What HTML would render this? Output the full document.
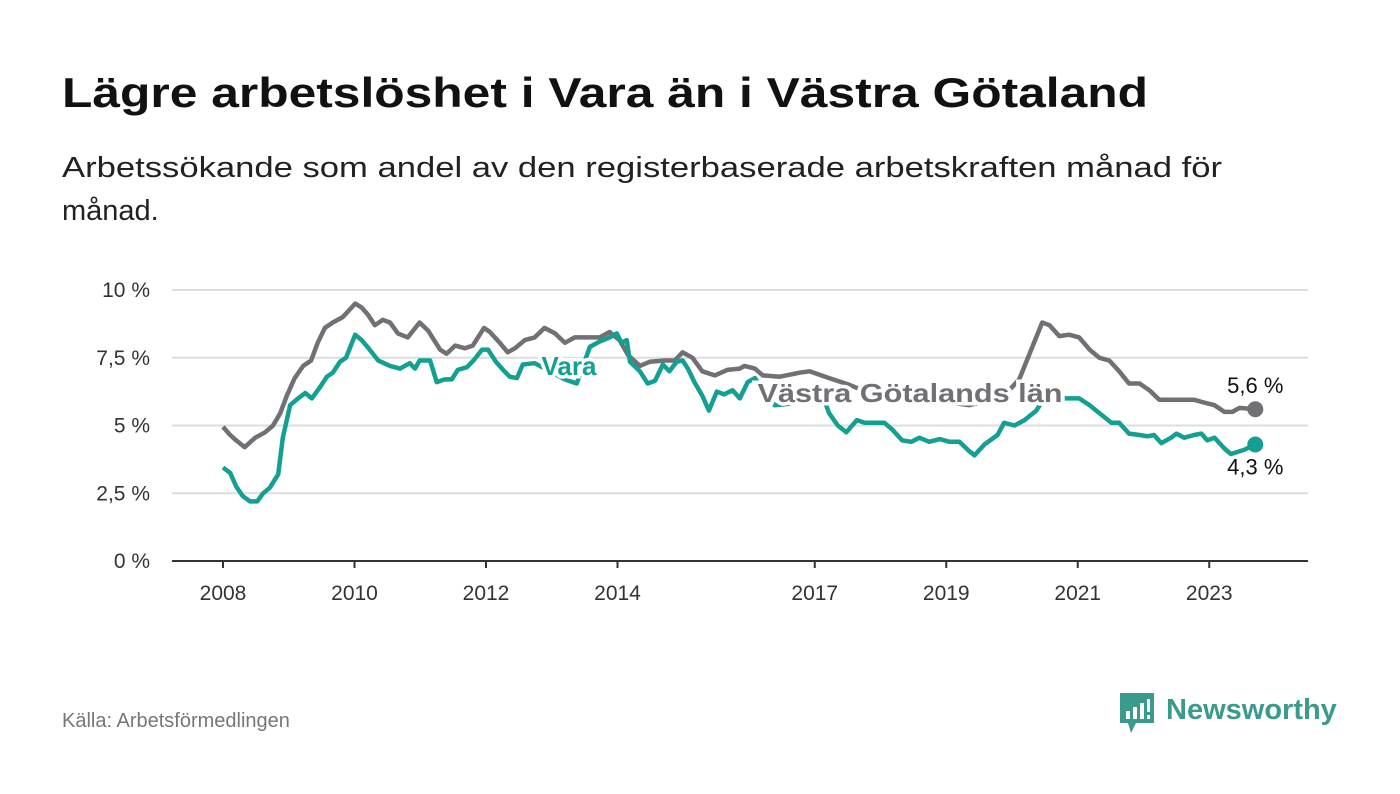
<!DOCTYPE html>
<html><head><meta charset="utf-8">
<style>
html,body{margin:0;padding:0;background:#fff;width:1400px;height:794px;overflow:hidden}
svg{display:block;font-family:"Liberation Sans",sans-serif}
</style></head><body>
<svg id="chart" width="1400" height="794" viewBox="0 0 1400 794">
<text x="62" y="107" font-size="42" font-weight="bold" fill="#111" textLength="1086" lengthAdjust="spacingAndGlyphs">Lägre arbetslöshet i Vara än i Västra Götaland</text>
<text x="62" y="177" font-size="29" fill="#222" textLength="1160" lengthAdjust="spacingAndGlyphs">Arbetssökande som andel av den registerbaserade arbetskraften månad för</text>
<text x="62" y="220" font-size="29" fill="#222">månad.</text>
<g id="grid"></g><g id="series"></g><g id="labels"></g>
<text x="62" y="727" font-size="20" fill="#777">Källa: Arbetsförmedlingen</text>
<g>
<path d="M1120 693 h34 v30 h-18 l-5 10 l-3 -10 h-8 z" fill="#3a9a8c"/>
<rect x="1126" y="711" width="4" height="8" fill="#fff"/><rect x="1133" y="707" width="4" height="12" fill="#fff"/><rect x="1140" y="703" width="4" height="16" fill="#fff"/><rect x="1147" y="699" width="3" height="13" fill="#fff"/><rect x="1147" y="715" width="3" height="4" fill="#fff"/>
<text x="1166" y="719" font-size="29" font-weight="bold" fill="#3a9a8c">Newsworthy</text>
</g>
</svg>
<script>
const yTicks=[0,2.5,5,7.5,10];
const yTickLabels=["0 %","2,5 %","5 %","7,5 %","10 %"];
const xTicks=[2008,2010,2012,2014,2017,2019,2021,2023];
const grayT=[0,.11,.2,.33,.49,.64,.76,.87,.97,1.09,1.22,1.34,1.44,1.55,1.67,1.82,2.01,2.11,2.2,2.31,2.43,2.54,2.66,2.81,2.99,3.12,3.3,3.4,3.53,3.68,3.8,3.97,4.06,4.21,4.33,4.44,4.59,4.74,4.89,5.05,5.2,5.35,5.5,5.73,5.88,6.03,6.16,6.34,6.49,6.72,6.87,6.99,7.14,7.29,7.48,7.67,7.86,7.93,8.09,8.21,8.47,8.77,8.92,9.22,9.53,9.83,10.29,10.9,11.35,11.66,11.88,12.11,12.46,12.57,12.72,12.87,13.02,13.18,13.33,13.48,13.63,13.78,13.94,14.09,14.24,14.47,14.77,14.92,15.08,15.23,15.35,15.46,15.7];
const grayV=[4.95,4.65,4.45,4.2,4.55,4.75,5.0,5.45,6.1,6.75,7.2,7.4,8.05,8.6,8.8,9.0,9.5,9.35,9.1,8.7,8.9,8.8,8.4,8.25,8.8,8.5,7.8,7.65,7.95,7.85,7.95,8.6,8.45,8.05,7.7,7.85,8.15,8.25,8.6,8.4,8.05,8.25,8.25,8.25,8.45,8.15,7.6,7.2,7.35,7.4,7.4,7.7,7.5,7.0,6.85,7.05,7.1,7.2,7.1,6.85,6.8,6.95,7.0,6.75,6.5,6.2,6.1,5.9,5.75,5.95,6.1,6.7,8.8,8.7,8.3,8.35,8.25,7.8,7.5,7.4,7.0,6.55,6.55,6.3,5.95,5.95,5.95,5.85,5.75,5.5,5.5,5.65,5.6];
const varaT=[0,.11,.2,.3,.41,.52,.61,.71,.84,.91,1.02,1.14,1.25,1.35,1.47,1.58,1.67,1.78,1.87,2.01,2.11,2.23,2.36,2.54,2.69,2.84,2.92,2.99,3.15,3.25,3.37,3.48,3.57,3.71,3.81,3.94,4.03,4.15,4.26,4.36,4.47,4.56,4.74,4.97,5.2,5.38,5.58,5.73,5.88,5.99,6.06,6.14,6.19,6.34,6.46,6.57,6.69,6.79,6.9,6.99,7.07,7.17,7.29,7.39,7.51,7.62,7.75,7.86,7.98,8.09,8.24,8.39,8.62,8.92,9.15,9.22,9.35,9.48,9.64,9.76,10.06,10.18,10.33,10.47,10.59,10.74,10.9,11.05,11.2,11.35,11.43,11.58,11.78,11.88,12.04,12.19,12.37,12.49,12.72,13.02,13.18,13.36,13.51,13.63,13.78,13.94,14.06,14.16,14.27,14.42,14.5,14.62,14.77,14.88,14.97,15.08,15.23,15.33,15.53,15.7];
const varaV=[3.45,3.25,2.75,2.4,2.2,2.2,2.5,2.7,3.2,4.55,5.75,6.0,6.2,6.0,6.4,6.8,6.95,7.35,7.5,8.35,8.15,7.8,7.4,7.2,7.1,7.3,7.1,7.4,7.4,6.6,6.7,6.7,7.05,7.15,7.4,7.8,7.8,7.35,7.05,6.8,6.75,7.25,7.3,7.0,6.7,6.55,7.9,8.1,8.25,8.4,8.05,8.15,7.35,7.0,6.55,6.65,7.25,7.0,7.35,7.4,7.1,6.6,6.1,5.55,6.25,6.15,6.3,6.0,6.6,6.75,6.2,5.75,5.8,6.0,5.9,5.45,5.0,4.75,5.2,5.1,5.1,4.85,4.45,4.4,4.55,4.4,4.5,4.4,4.4,4.05,3.9,4.3,4.65,5.1,5.0,5.2,5.55,6.0,6.0,6.0,5.75,5.4,5.1,5.1,4.7,4.65,4.6,4.65,4.35,4.55,4.7,4.55,4.65,4.7,4.45,4.55,4.15,3.95,4.1,4.3];
const lastLabels=["5,6 %","4,3 %"];
const NS="http://www.w3.org/2000/svg";
const X=y=>223+(y-2008)*65.75, Y=v=>561-v*27.1;
function mk(tag,attrs,parent,txt){const e=document.createElementNS(NS,tag);for(const k in attrs)e.setAttribute(k,attrs[k]);if(txt!=null)e.textContent=txt;parent.appendChild(e);return e;}
const grid=document.getElementById('grid'),ser=document.getElementById('series'),lab=document.getElementById('labels');
yTicks.forEach((t,i)=>{
 const l=mk('line',{x1:172,x2:1308,y1:Y(t),y2:Y(t),stroke:t===0?'#333':'#ddd','stroke-width':t===0?2:2},grid);
 
 
 const tx=mk('text',{x:150,y:Y(t)+7,'font-size':21,fill:'#333','text-anchor':'end'},grid,yTickLabels[i]);
 
 
});
xTicks.forEach(t=>{
 const l=mk('line',{x1:X(t),x2:X(t),y1:561,y2:568,stroke:'#333','stroke-width':2},grid);
 
 
 const tx=mk('text',{x:X(t),y:600,'font-size':21,fill:'#333','text-anchor':'middle'},grid,String(t));
 
 
});
function line(T,V,color,name){
 const d=T.map((t,i)=>(i?'L':'M')+X(2008+t).toFixed(1)+' '+Y(V[i]).toFixed(1)).join(' ');
 const p=mk('path',{d:d,fill:'none',stroke:color,'stroke-width':4.5,'stroke-linejoin':'round'},ser);
 
 
 const n=T.length-1;
 const c=mk('circle',{cx:X(2008+T[n]),cy:Y(V[n]),r:8,fill:color},ser);
 
 
}
line(grayT,grayV,'#707075','vastra-gotaland-line');
line(varaT,varaV,'#139f91','vara-line');
const ng=grayT.length-1,nv=varaT.length-1;
const l1=mk('text',{x:X(2008+grayT[ng]),y:Y(grayV[ng])-16,'font-size':22,fill:'#111','text-anchor':'middle',stroke:'#fff','stroke-width':5,'paint-order':'stroke'},lab,lastLabels[0]);


const l2=mk('text',{x:X(2008+varaT[nv]),y:Y(varaV[nv])+30,'font-size':22,fill:'#111','text-anchor':'middle',stroke:'#fff','stroke-width':5,'paint-order':'stroke'},lab,lastLabels[1]);


const s1=mk('text',{x:569,y:375,'font-size':26,'font-weight':'bold',fill:'#139f91','text-anchor':'middle',stroke:'#fff','stroke-width':7,'paint-order':'stroke'},lab,'Vara');


const s2=mk('text',{x:910,y:402,'font-size':26,'font-weight':'bold',fill:'#707075','text-anchor':'middle',stroke:'#fff','stroke-width':7,'paint-order':'stroke',textLength:305,lengthAdjust:'spacingAndGlyphs'},lab,'Västra Götalands län');


</script>
</body></html>
